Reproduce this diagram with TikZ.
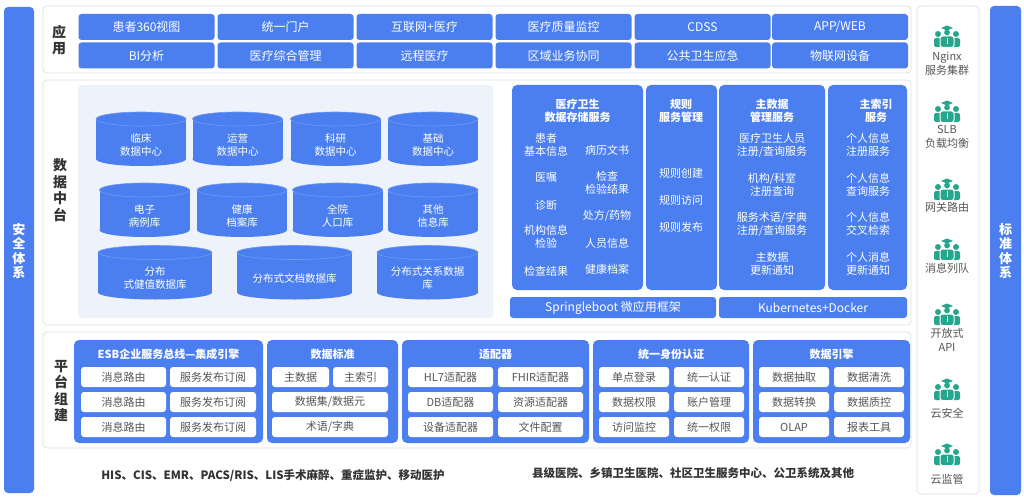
\documentclass[tikz,border=0pt]{standalone}
\usepackage{fontspec}
\setmainfont{Noto Sans CJK SC}
\usetikzlibrary{positioning}

\definecolor{mainblue}{HTML}{4B7FF0}
\definecolor{topline}{HTML}{6F98F4}
\definecolor{lightpanel}{HTML}{EEF2FA}
\definecolor{linegray}{HTML}{DCE0E4}
\definecolor{darktext}{HTML}{333333}
\definecolor{btntext}{HTML}{555555}
\definecolor{iconteal}{HTML}{26A68C}

\tikzset{
  panel/.style={draw=linegray, fill=white, rounded corners=4pt, line width=0.8pt},
  bluepanel/.style={fill=mainblue, rounded corners=5pt},
  appbox/.style={fill=mainblue, rounded corners=3pt, text=white, minimum width=136pt,
    minimum height=26pt, inner sep=0pt, font=\fontsize{12}{14}\selectfont},
  item/.style={text=white, align=center, inner sep=0pt, font=\fontsize{11}{13}\selectfont},
  title/.style={item, font=\fontsize{11}{13}\selectfont\bfseries},
  dbtext/.style={item, font=\fontsize{10.5}{13}\selectfont},
  btn/.style={fill=white, rounded corners=3pt, text=btntext, minimum height=20pt,
    inner sep=0pt, font=\fontsize{11}{13}\selectfont},
  layer/.style={text=darktext, align=center, inner sep=0pt, font=\fontsize{14}{16.5}\selectfont\bfseries},
  sidebar/.style={fill=mainblue, rounded corners=4pt},
  sidetext/.style={text=white, align=center, inner sep=0pt, font=\fontsize{13}{14.5}\selectfont\bfseries},
  svc/.style={text=btntext, align=center, inner sep=0pt, font=\fontsize{11}{14}\selectfont},
  source/.style={text=darktext, inner sep=0pt, font=\fontsize{11.5}{13}\selectfont\bfseries}
}

% database cylinder: name, centre x, centre y, width, text
\newcommand{\dbcyl}[5]{%
  \fill[mainblue] (#2-#4/2,#3-20) rectangle (#2+#4/2,#3+20);
  \fill[mainblue] (#2,#3+20) ellipse [x radius=#4/2, y radius=7];
  \draw[fill=mainblue, draw=topline, line width=0.6pt] (#2,#3-20) ellipse [x radius=#4/2, y radius=7];
  \node[dbtext] (#1) at (#2,#3+6) {#5};}

% people icon: centre x, centre y
\newcommand{\staffpic}[2]{%
  \fill[iconteal, rounded corners=2pt] (#1-13,#2+10) rectangle (#1-4,#2+1);
  \fill[iconteal, rounded corners=2pt] (#1+4,#2+10) rectangle (#1+13,#2+1);
  \filldraw[fill=iconteal, draw=white, line width=1pt, rounded corners=2.5pt] (#1-7,#2+10.5) rectangle (#1+7,#2-1);
  \fill[iconteal] (#1-9,#2-3) circle [radius=3];
  \fill[iconteal] (#1+9,#2-3) circle [radius=3];
  \filldraw[fill=iconteal, draw=white, line width=0.8pt] (#1,#2-4.5) circle [radius=3.5];
  \fill[iconteal] (#1-6,#2-9) -- (#1,#2-11.5) -- (#1+6,#2-9) -- (#1,#2-6.5) -- cycle;
  \draw[white, line width=1pt] (#1,#2+1) -- (#1,#2+7);}

\begin{document}
\begin{tikzpicture}[x=1pt, y=-1pt]
  \useasboundingbox[fill=white] (0,0) rectangle (1024,500);

  % side bars
  \fill[sidebar] (4,7) rectangle (34,493);
  \node[sidetext] (safety) at (19,251) {安\\全\\体\\系};
  \fill[sidebar] (990,6) rectangle (1021,495);
  \node[sidetext] (norms) at (1005.5,251) {标\\准\\体\\系};

  % application layer
  \draw[panel] (43,6) rectangle (911,73);
  \node[layer] (applbl) at (59,40) {应\\用};
  \node[appbox] (a1) at (146.5,27) {患者360视图};
  \node[appbox] (a2) at (285.5,27) {统一门户};
  \node[appbox] (a3) at (424.5,27) {互联网+医疗};
  \node[appbox] (a4) at (563.5,27) {医疗质量监控};
  \node[appbox] (a5) at (702.5,27) {CDSS};
  \node[appbox] (a6) at (840,27) {APP/WEB};
  \node[appbox] (b1) at (146.5,55.5) {BI分析};
  \node[appbox] (b2) at (285.5,55.5) {医疗综合管理};
  \node[appbox] (b3) at (424.5,55.5) {远程医疗};
  \node[appbox] (b4) at (563.5,55.5) {区域业务协同};
  \node[appbox] (b5) at (702.5,55.5) {公共卫生应急};
  \node[appbox] (b6) at (840,55.5) {物联网设备};

  % data middle platform
  \draw[panel] (43,80) rectangle (911,325);
  \node[layer] (datalbl) at (60,190) {数\\据\\中\\台};
  \fill[lightpanel, rounded corners=4pt] (78,85) rectangle (493,318);
  \dbcyl{c1}{141}{139}{90}{临床\\数据中心}
  \dbcyl{c2}{237.5}{139}{90}{运营\\数据中心}
  \dbcyl{c3}{335.5}{139}{90}{科研\\数据中心}
  \dbcyl{c4}{433}{139}{90}{基础\\数据中心}
  \dbcyl{d1}{144.5}{210}{90}{电子\\病例库}
  \dbcyl{d2}{242}{210}{90}{健康\\档案库}
  \dbcyl{d3}{337.5}{210}{90}{全院\\人口库}
  \dbcyl{d4}{433}{210}{90}{其他\\信息库}
  \dbcyl{e1}{155}{272.5}{114}{分布\\式健值数据库}
  \dbcyl{e2}{294.5}{272.5}{115}{分布式文档数据库}
  \dbcyl{e3}{427.5}{272.5}{101}{分布式关系数据\\库}

  \fill[bluepanel] (512,85) rectangle (643,290);
  \fill[bluepanel] (646,85) rectangle (717,290);
  \fill[bluepanel] (719,85) rectangle (825,290);
  \fill[bluepanel] (828,85) rectangle (907,290);
  \node[title] (storage) at (577.5,111) {医疗卫生\\数据存储服务};
  \node[item] (s1) at (546,144.5) {患者\\基本信息};
  \node[item] (s2) at (546,178) {医嘱};
  \node[item] (s3) at (546,205) {诊断};
  \node[item] (s4) at (546,237) {机构信息\\检验};
  \node[item] (s5) at (546,271) {检查结果};
  \node[item] (s6) at (607,150) {病历文书};
  \node[item] (s7) at (607,183) {检查\\检验结果};
  \node[item] (s8) at (607,216) {处方/药物};
  \node[item] (s9) at (607,243) {人员信息};
  \node[item] (s10) at (607,269) {健康档案};
  \node[title] (rules) at (681,111) {规则\\服务管理};
  \node[item] (r1) at (681,173) {规则创建};
  \node[item] (r2) at (681,200) {规则访问};
  \node[item] (r3) at (681,227) {规则发布};
  \node[title] (master) at (772,111) {主数据\\管理服务};
  \node[item] (m1) at (772,145) {医疗卫生人员\\注册/查询服务};
  \node[item] (m2) at (772,184.5) {机构/科室\\注册查询};
  \node[item] (m3) at (772,224) {服务术语/字典\\注册/查询服务};
  \node[item] (m4) at (772,264) {主数据\\更新通知};
  \node[title] (index) at (876,111) {主索引\\服务};
  \node[item] (i1) at (868,144.5) {个人信息\\注册服务};
  \node[item] (i2) at (868,184.5) {个人信息\\查询服务};
  \node[item] (i3) at (868,223.5) {个人信息\\交叉检索};
  \node[item] (i4) at (868,264) {个人消息\\更新通知};
  \fill[mainblue, rounded corners=3pt] (510,297) rectangle (716,318);
  \fill[mainblue, rounded corners=3pt] (719,297) rectangle (907,318);
  \node[item, font=\fontsize{12}{14}\selectfont] (spring) at (613,307.5) {Springleboot 微应用框架};
  \node[item, font=\fontsize{12}{14}\selectfont] (k8s) at (813,307.5) {Kubernetes+Docker};

  % platform layer
  \draw[panel] (43,332) rectangle (911,448);
  \node[layer] (platlbl) at (61,391) {平\\台\\组\\建};
  \fill[bluepanel] (74,340) rectangle (263,443);
  \fill[bluepanel] (267,340) rectangle (398,443);
  \fill[bluepanel] (402,340) rectangle (589,443);
  \fill[bluepanel] (593,340) rectangle (749,443);
  \fill[bluepanel] (753,340) rectangle (910,443);
  \node[title] (esb) at (168.5,354) {ESB企业服务总线—集成引擎};
  \node[title] (std) at (332.5,354) {数据标准};
  \node[title] (adapt) at (495.5,354) {适配器};
  \node[title] (auth) at (671,354) {统一身份认证};
  \node[title] (engine) at (831.5,354) {数据引擎};

  \node[btn, minimum width=85pt] (esb1) at (123.5,377) {消息路由};
  \node[btn, minimum width=86pt] (esb2) at (213,377) {服务发布订阅};
  \node[btn, minimum width=85pt] (esb3) at (123.5,402) {消息路由};
  \node[btn, minimum width=86pt] (esb4) at (213,402) {服务发布订阅};
  \node[btn, minimum width=85pt] (esb5) at (123.5,427) {消息路由};
  \node[btn, minimum width=86pt] (esb6) at (213,427) {服务发布订阅};
  \node[btn, minimum width=57pt] (std1) at (300.5,377) {主数据};
  \node[btn, minimum width=55pt] (std2) at (360.5,377) {主索引};
  \node[btn, minimum width=116pt] (std3) at (330,402) {数据集/数据元};
  \node[btn, minimum width=116pt] (std4) at (330,427) {术语/字典};
  \node[btn, minimum width=85pt] (ad1) at (450.5,377) {HL7适配器};
  \node[btn, minimum width=85pt] (ad2) at (540.5,377) {FHIR适配器};
  \node[btn, minimum width=85pt] (ad3) at (450.5,402) {DB适配器};
  \node[btn, minimum width=85pt] (ad4) at (540.5,402) {资源适配器};
  \node[btn, minimum width=85pt] (ad5) at (450.5,427) {设备适配器};
  \node[btn, minimum width=85pt] (ad6) at (540.5,427) {文件配置};
  \node[btn, minimum width=70pt] (au1) at (634,377) {单点登录};
  \node[btn, minimum width=70pt] (au2) at (709,377) {统一认证};
  \node[btn, minimum width=70pt] (au3) at (634,402) {数据权限};
  \node[btn, minimum width=70pt] (au4) at (709,402) {账户管理};
  \node[btn, minimum width=70pt] (au5) at (634,427) {访问监控};
  \node[btn, minimum width=70pt] (au6) at (709,427) {统一权限};
  \node[btn, minimum width=70pt] (en1) at (794,377) {数据抽取};
  \node[btn, minimum width=70pt] (en2) at (869,377) {数据清洗};
  \node[btn, minimum width=70pt] (en3) at (794,402) {数据转换};
  \node[btn, minimum width=70pt] (en4) at (869,402) {数据质控};
  \node[btn, minimum width=70pt] (en5) at (794,427) {OLAP};
  \node[btn, minimum width=70pt] (en6) at (869,427) {报表工具};

  % source systems
  \node[source] (src1) at (273,476) {HIS、CIS、EMR、PACS/RIS、LIS手术麻醉、重症监护、移动医护};
  \node[source] (src2) at (693,473) {县级医院、乡镇卫生医院、社区卫生服务中心、公卫系统及其他};

  % service column
  \draw[panel] (917,6) rectangle (979,494);
  \staffpic{947}{37}
  \node[svc] (nginx) at (947,64) {Nginx\\服务集群};
  \staffpic{947}{112}
  \node[svc] (slb) at (947,136.5) {SLB\\负载均衡};
  \staffpic{947}{190}
  \node[svc] (gate) at (947,207) {网关路由};
  \staffpic{947}{250}
  \node[svc] (queue) at (947,268) {消息列队};
  \staffpic{947}{315}
  \node[svc] (api) at (947,340) {开放式\\API};
  \staffpic{947}{390}
  \node[svc] (cloudsec) at (947,413) {云安全};
  \staffpic{947}{455}
  \node[svc] (cloudmon) at (947,479) {云监管};
\end{tikzpicture}
\end{document}
